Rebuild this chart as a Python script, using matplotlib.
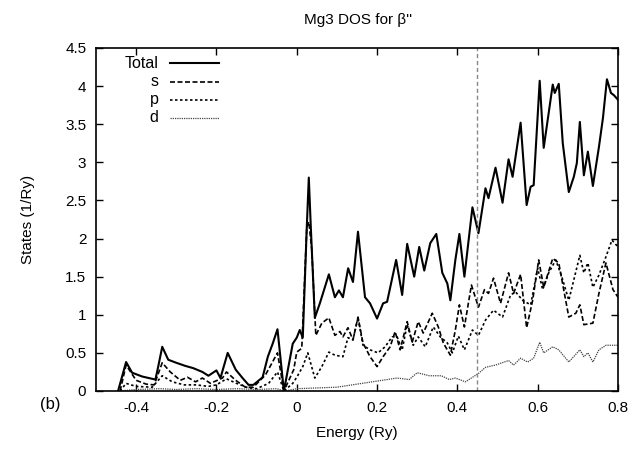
import matplotlib.pyplot as plt

plt.rcParams['font.family'] = ['Liberation Sans', 'DejaVu Sans']
plt.rcParams['font.size'] = 11

# --------------------------------------------------
# Data (energy in Ry, states in 1/Ry)
# --------------------------------------------------
total_e = [-0.445, -0.425, -0.41, -0.385, -0.352, -0.345, -0.335, -0.32, -0.30,
           -0.278, -0.258, -0.235, -0.22, -0.20, -0.19, -0.172, -0.152, -0.135,
           -0.12, -0.108, -0.085, -0.072, -0.06, -0.048, -0.032, -0.01, 0.0,
           0.0075, 0.015, 0.025, 0.03, 0.035, 0.045, 0.0575, 0.08, 0.095, 0.105,
           0.115, 0.128, 0.14, 0.1525, 0.17, 0.1825, 0.20, 0.215, 0.225, 0.2475,
           0.2625, 0.275, 0.2925, 0.305, 0.3175, 0.3325, 0.3475, 0.3625, 0.375,
           0.3825, 0.395, 0.405, 0.4175, 0.4375, 0.4525, 0.47, 0.4775, 0.495,
           0.5125, 0.5275, 0.5375, 0.5575, 0.5725, 0.5825, 0.59, 0.605, 0.615,
           0.6375, 0.6425, 0.6525, 0.6625, 0.6775, 0.69, 0.6975, 0.705, 0.715,
           0.725, 0.7375, 0.7525, 0.7625, 0.7725, 0.7825, 0.79, 0.80]
total_v = [0.0, 0.38, 0.24, 0.19, 0.15, 0.32, 0.58, 0.41, 0.37,
           0.33, 0.30, 0.25, 0.20, 0.27, 0.17, 0.50, 0.28, 0.17,
           0.08, 0.08, 0.18, 0.45, 0.62, 0.81, 0.0, 0.62, 0.70,
           0.80, 0.70, 2.15, 2.80, 2.15, 0.96, 1.15, 1.53, 1.23, 1.32,
           1.23, 1.61, 1.43, 2.09, 1.23, 1.15, 0.95, 1.15, 1.17, 1.72,
           1.26, 1.93, 1.50, 1.89, 1.58, 1.94, 2.06, 1.55, 1.41,
           1.19, 1.72, 2.06, 1.50, 2.41, 2.07, 2.66, 2.53, 2.93,
           2.47, 3.04, 2.81, 3.52, 2.44, 2.68, 2.70, 4.07, 3.19,
           4.02, 3.91, 4.03, 3.25, 2.61, 2.81, 2.99, 3.53, 2.83,
           3.14, 2.69, 3.20, 3.58, 4.09, 3.91, 3.88, 3.82]

s_e = [-0.44, -0.425, -0.40, -0.375, -0.355, -0.335, -0.315, -0.29, -0.272,
       -0.252, -0.235, -0.215, -0.185, -0.175, -0.152, -0.128, -0.108, -0.078,
       -0.048, -0.032, -0.0075, 0.0, 0.0125, 0.025, 0.03, 0.0375, 0.0475, 0.0625,
       0.08, 0.095, 0.1075, 0.115, 0.1275, 0.14, 0.1525, 0.165, 0.1825, 0.20,
       0.215, 0.2325, 0.245, 0.2575, 0.275, 0.2875, 0.3025, 0.315, 0.3375,
       0.3525, 0.365, 0.3825, 0.395, 0.405, 0.4175, 0.435, 0.4525, 0.4675,
       0.4775, 0.49, 0.5075, 0.5275, 0.54, 0.5575, 0.5725, 0.5875, 0.6025,
       0.615, 0.6375, 0.6525, 0.6775, 0.695, 0.705, 0.715, 0.7375, 0.7525,
       0.77, 0.7875, 0.80]
s_v = [0.0, 0.34, 0.14, 0.09, 0.08, 0.37, 0.25, 0.14, 0.18,
       0.12, 0.17, 0.10, 0.17, 0.25, 0.14, 0.05, 0.05, 0.21,
       0.50, 0.0, 0.28, 0.51, 0.56, 2.15, 2.22, 1.85, 0.73, 0.89,
       0.96, 0.73, 0.78, 0.71, 0.83, 0.67, 0.97, 0.63, 0.45, 0.32,
       0.45, 0.58, 0.78, 0.54, 0.91, 0.64, 0.91, 0.76, 1.02,
       0.84, 0.63, 0.47, 0.80, 1.13, 0.84, 1.39, 1.10, 1.33,
       1.28, 1.48, 1.15, 1.55, 1.28, 1.53, 0.83, 1.19, 1.72,
       1.36, 1.74, 1.68, 0.97, 1.02, 1.13, 0.87, 0.89, 1.28,
       1.68, 1.33, 1.23]

p_e = [-0.44, -0.425, -0.40, -0.36, -0.335, -0.31, -0.28, -0.25, -0.22, -0.20,
       -0.175, -0.15, -0.12, -0.10, -0.07, -0.048, -0.032, -0.01, 0.0, 0.015,
       0.0275, 0.045, 0.0625, 0.08, 0.095, 0.115, 0.1275, 0.14, 0.1525, 0.165,
       0.1825, 0.2025, 0.22, 0.2375, 0.25, 0.2625, 0.275, 0.29, 0.3025, 0.32,
       0.34, 0.3575, 0.375, 0.3875, 0.4025, 0.4175, 0.4375, 0.4525, 0.47,
       0.49, 0.5125, 0.5325, 0.545, 0.5625, 0.5825, 0.60, 0.6125, 0.6275,
       0.645, 0.66, 0.6775, 0.705, 0.715, 0.725, 0.7375, 0.7525, 0.77, 0.785,
       0.80]
p_v = [0.0, 0.10, 0.06, 0.05, 0.20, 0.12, 0.08, 0.08, 0.06, 0.08,
       0.16, 0.10, 0.04, 0.03, 0.10, 0.25, 0.0, 0.10, 0.18, 0.32,
       0.50, 0.17, 0.32, 0.51, 0.47, 0.45, 0.70, 0.67, 0.96, 0.60,
       0.54, 0.50, 0.58, 0.71, 0.71, 0.54, 0.87, 0.60, 0.71, 0.58,
       0.84, 0.71, 0.63, 0.50, 0.72, 0.54, 0.80, 0.73, 0.93,
       1.06, 0.97, 1.26, 1.30, 1.19, 1.13, 1.61, 1.33, 1.55,
       1.72, 1.50, 1.19, 1.78, 1.55, 1.68, 1.36, 1.52, 1.76, 1.98,
       1.89]

d_e = [-0.44, -0.40, -0.34, -0.30, -0.25, -0.20, -0.15, -0.10, -0.05, -0.03,
       0.0, 0.05, 0.10, 0.15, 0.20, 0.25, 0.28, 0.30, 0.33, 0.36, 0.38,
       0.395, 0.42, 0.4525, 0.47, 0.495, 0.5275, 0.54, 0.5575, 0.575, 0.59,
       0.605, 0.615, 0.6375, 0.6525, 0.6775, 0.705, 0.715, 0.725, 0.7375,
       0.7525, 0.77, 0.80]
d_v = [0.0, 0.02, 0.03, 0.02, 0.03, 0.02, 0.03, 0.02, 0.03, 0.0,
       0.03, 0.04, 0.05, 0.09, 0.13, 0.17, 0.15, 0.24, 0.20, 0.20, 0.15,
       0.17, 0.12, 0.23, 0.31, 0.34, 0.40, 0.34, 0.43, 0.38, 0.43,
       0.64, 0.50, 0.58, 0.54, 0.38, 0.54, 0.45, 0.50, 0.38,
       0.54, 0.60, 0.60]

fermi = 0.45

legend_labels = ["Total", "s", "p", "d"]

# --------------------------------------------------
# Plot
# --------------------------------------------------
fig = plt.figure(figsize=(6.42, 4.49), dpi=100)
ax = fig.add_axes([0.1495, 0.1292, 0.8131, 0.7639])

styles = [
    dict(color="black", lw=1.5, ls="-"),
    dict(color="black", lw=1.2, ls=(0, (3.0, 1.5))),
    dict(color="black", lw=1.2, ls=(0, (1.5, 1.5))),
    dict(color="#444444", lw=0.9, ls=(0, (1, 0.8))),
]
series = [(total_e, total_v), (s_e, s_v), (p_e, p_v), (d_e, d_v)]

for (e, v), st in zip(series, styles):
    ax.plot(e, v, solid_joinstyle="round", dash_joinstyle="round", **st)

ax.axvline(fermi, color="#888888", lw=1.0, ls=(0, (3, 2)))

# gnuplot-like legend: label right-aligned, sample line after it
for i, (lab, st) in enumerate(zip(legend_labels, styles)):
    y = 0.955 - i * 0.053
    ax.text(0.12, y, lab, transform=ax.transAxes, ha="right", va="center",
            fontsize=11.5)
    ax.plot([0.142, 0.235], [y, y], transform=ax.transAxes, **st)

ax.set_xlim(-0.5, 0.8)
ax.set_ylim(0, 4.5)
ax.set_xticks([-0.4, -0.2, 0, 0.2, 0.4, 0.6, 0.8])
ax.set_xticklabels(["-0.4", "-0.2", "0", "0.2", "0.4", "0.6", "0.8"])
ax.set_yticks([0, 0.5, 1, 1.5, 2, 2.5, 3, 3.5, 4, 4.5])
ax.set_yticklabels(["0", "0.5", "1", "1.5", "2", "2.5", "3", "3.5", "4", "4.5"])
ax.tick_params(direction="in", top=True, right=True, length=5, width=1,
               labelsize=11, pad=7)
for sp in ax.spines.values():
    sp.set_linewidth(1.2)

ax.set_xlabel("Energy (Ry)", labelpad=8)
ax.set_ylabel("States (1/Ry)", labelpad=22)
fig.text(0.558, 0.955, "Mg3 DOS for β''", ha="center", va="center",
         fontsize=11)
fig.text(0.062, 0.098, "(b)", ha="left", va="center", fontsize=12)

fig.savefig("out.png", dpi=100)
